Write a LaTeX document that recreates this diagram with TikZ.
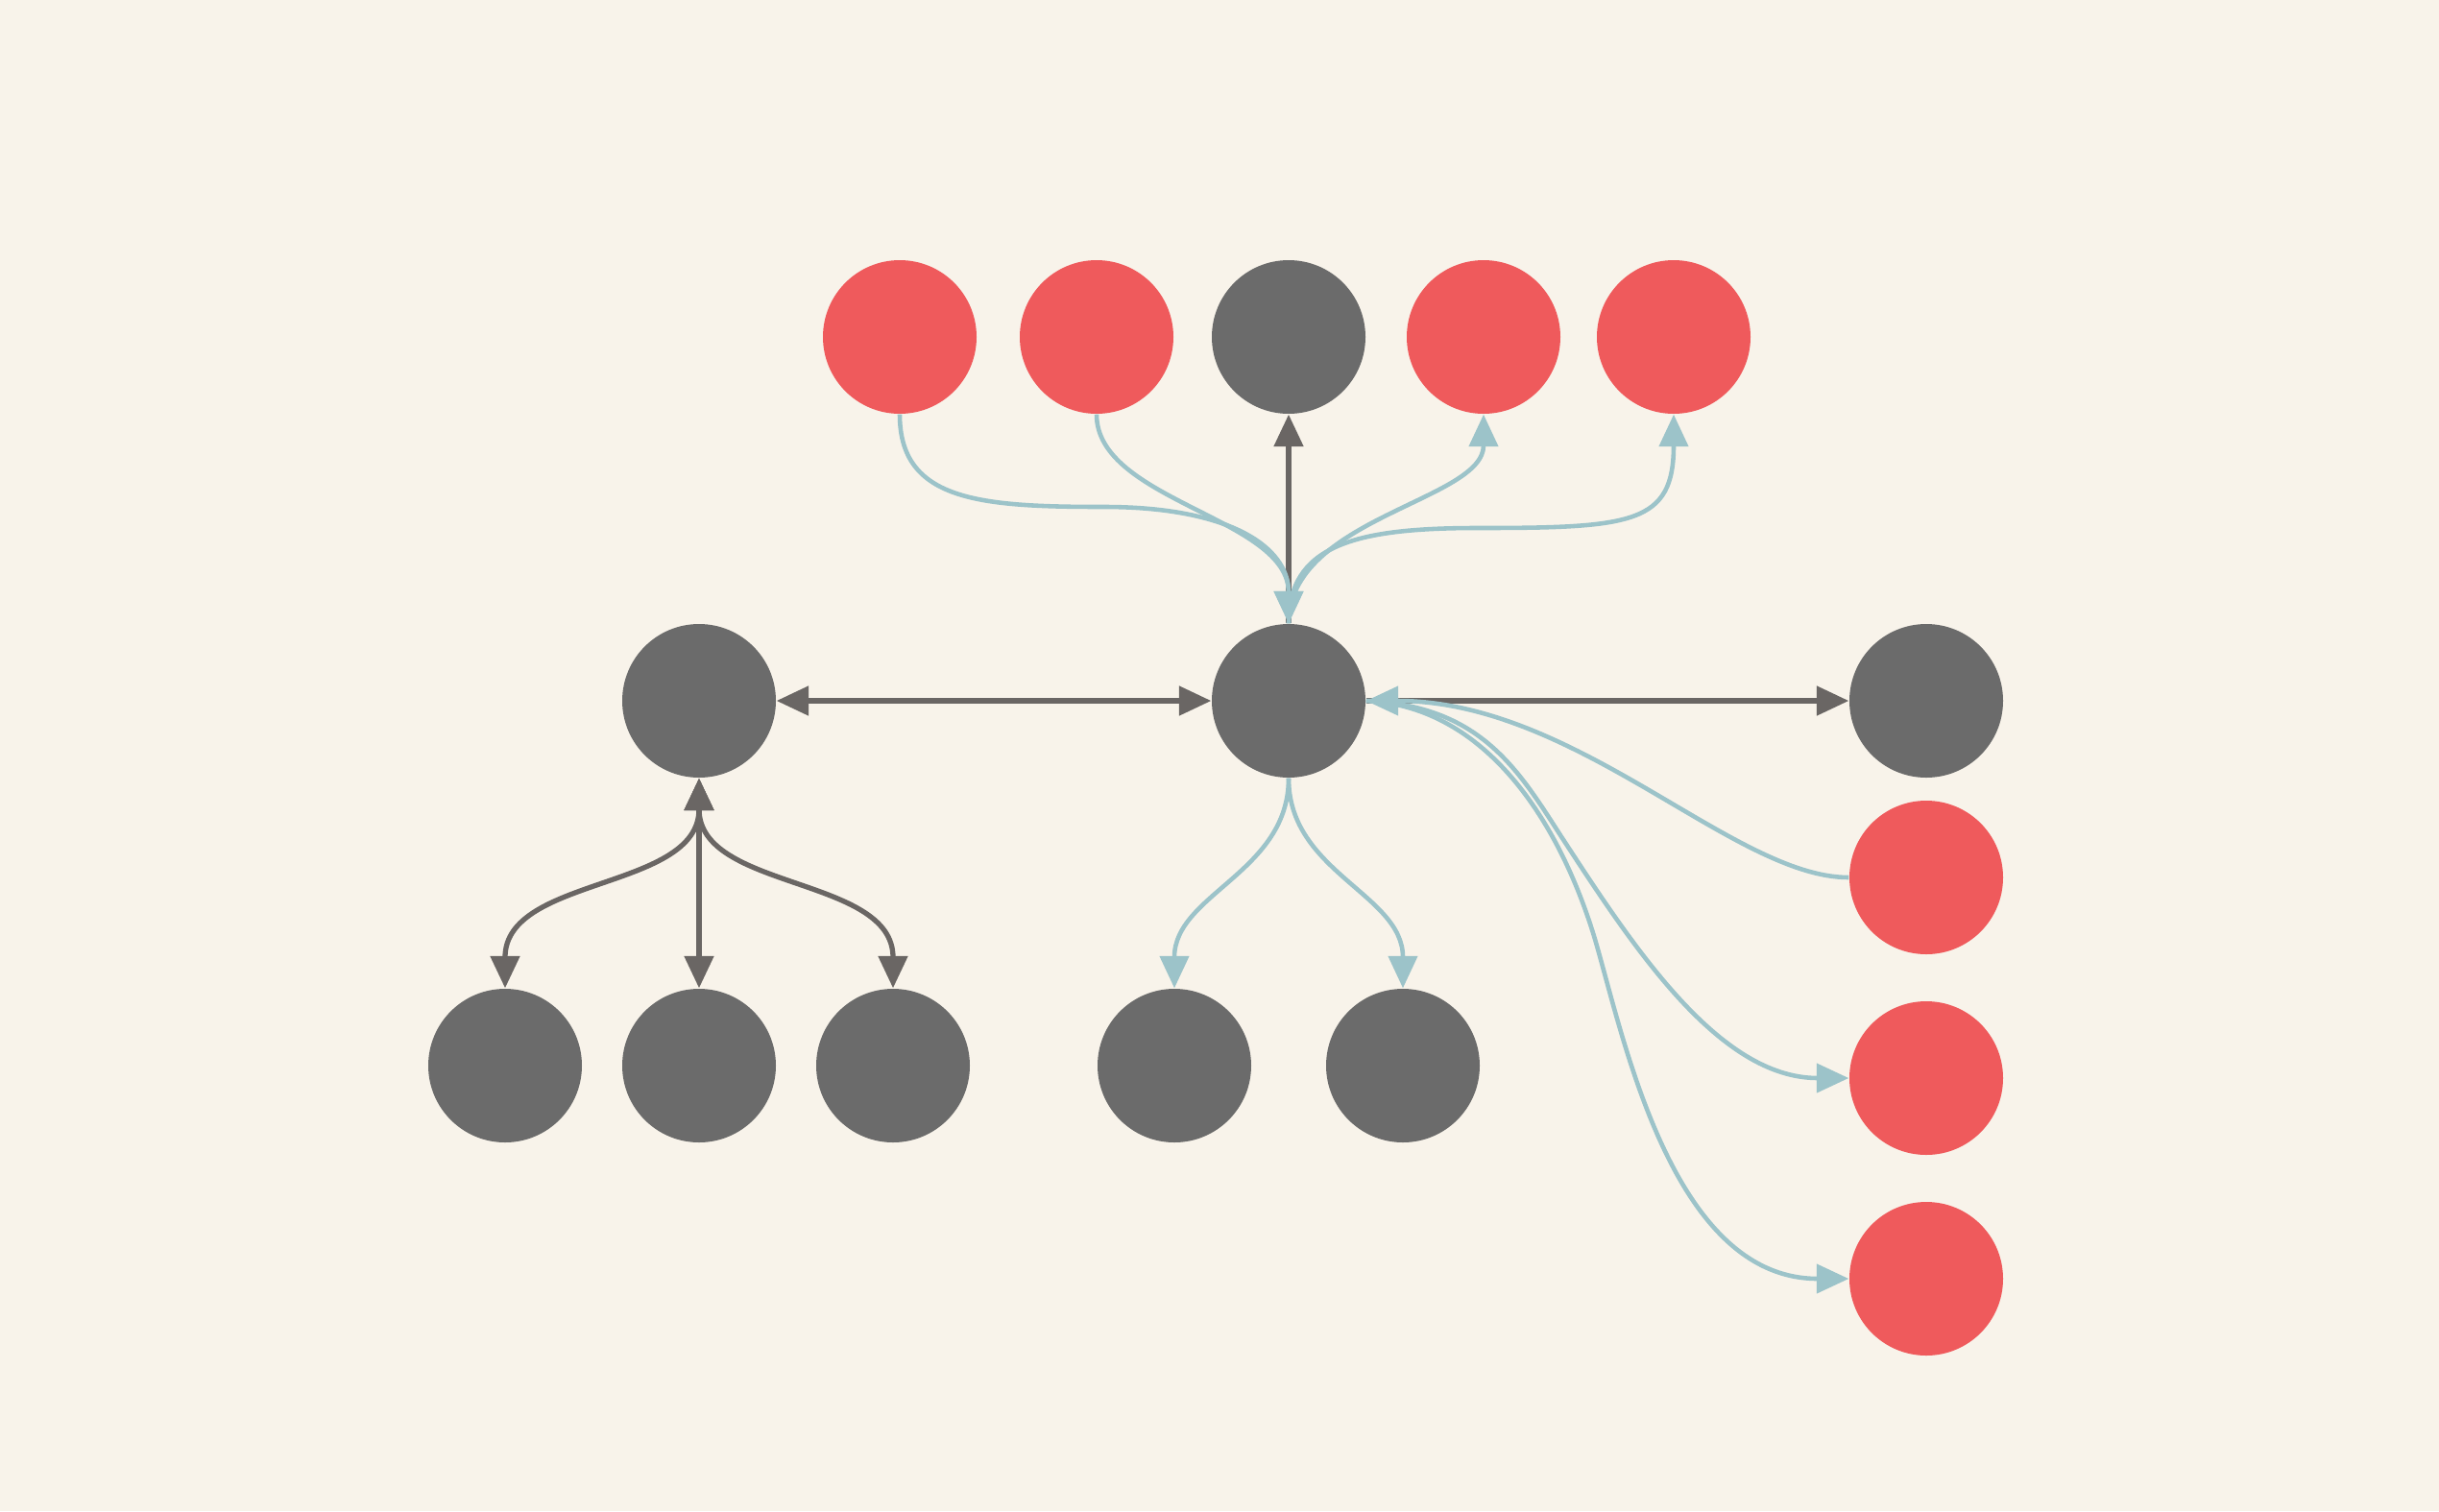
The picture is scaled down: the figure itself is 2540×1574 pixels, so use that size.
\documentclass[tikz,border=0pt]{standalone}
\usetikzlibrary{arrows.meta}
\definecolor{bg}{HTML}{F8F3EA}
\definecolor{nred}{HTML}{EF5A5C}
\definecolor{ngray}{HTML}{6B6B6B}
\definecolor{lblue}{HTML}{9CC3C9}
\definecolor{ldark}{HTML}{6A6664}
\begin{document}
\begin{tikzpicture}[x=0.1mm,y=-0.1mm,
  dot/.style={circle,minimum size=16mm,inner sep=0pt,draw=none},
  rdot/.style={dot,fill=nred},
  gdot/.style={dot,fill=ngray},
  darkline/.style={draw=ldark,line width=1.5pt},
  blueline/.style={draw=lblue,line width=1.3pt},
  >={Triangle[length=9.5pt,width=8.5pt]}
]
\fill[bg] (0,0) rectangle (2540,1574);
\useasboundingbox (0,0) rectangle (2540,1574);

% nodes
\node[rdot] (t1) at (937,351) {};
\node[rdot] (t2) at (1142,351) {};
\node[gdot] (t3) at (1342,351) {};
\node[rdot] (t4) at (1545,351) {};
\node[rdot] (t5) at (1743,351) {};
\node[gdot] (L) at (728,730) {};
\node[gdot] (C) at (1342,730) {};
\node[gdot] (R0) at (2006,730) {};
\node[rdot] (R1) at (2006,914) {};
\node[rdot] (R2) at (2006,1123) {};
\node[rdot] (R3) at (2006,1332) {};
\node[gdot] (b1) at (526,1110) {};
\node[gdot] (b2) at (728,1110) {};
\node[gdot] (b3) at (930,1110) {};
\node[gdot] (b4) at (1223,1110) {};
\node[gdot] (b5) at (1461,1110) {};

\coordinate (m1) at (1150,528);
\coordinate (m5) at (1538,550);
\coordinate (m2) at (1625,870);
\coordinate (m3) at (1660,975);

% dark connectors
\draw[darkline,->] (C.north) -- (t3.south);
\draw[darkline,<->] (L.east) -- (C.west);
\draw[darkline,->] (C.east) -- (R0.west);
\draw[darkline,<->] (L.south) .. controls +(0,117) and +(0,-117) .. (b1.north);
\draw[darkline,<->] (L.south) -- (b2.north);
\draw[darkline,<->] (L.south) .. controls +(0,117) and +(0,-117) .. (b3.north);

% blue connectors
\draw[blueline,->] (t1.south) .. controls +(0,90) and +(-130,0) .. (m1) .. controls +(130,0) and +(0,-80) .. (C.north);
\draw[blueline,->] (t2.south) .. controls +(0,90) and +(0,-110) .. (C.north);
\draw[blueline,->] (C.north) .. controls +(0,-110) and +(0,90) .. (t4.south);
\draw[blueline,->] (C.north) .. controls +(0,-80) and +(-130,0) .. (m5) .. controls +(162,0) and +(0,114) .. (t5.south);
\draw[blueline,->] (R1.west) .. controls +(-120,0) and +(220,0) .. (C.east);
\draw[blueline,->] (C.east) .. controls +(118,5) and +(-45,-70) .. (m2) .. controls +(75,115) and +(-136,0) .. (R2.west);
\draw[blueline,->] (C.east) .. controls +(118,5) and +(-40,-130) .. (m3) .. controls +(30,100) and +(-186,0) .. (R3.west);
\draw[blueline,->] (C.south) .. controls +(0,98) and +(0,-98) .. (b4.north);
\draw[blueline,->] (C.south) .. controls +(0,98) and +(0,-98) .. (b5.north);
\end{tikzpicture}
\end{document}
